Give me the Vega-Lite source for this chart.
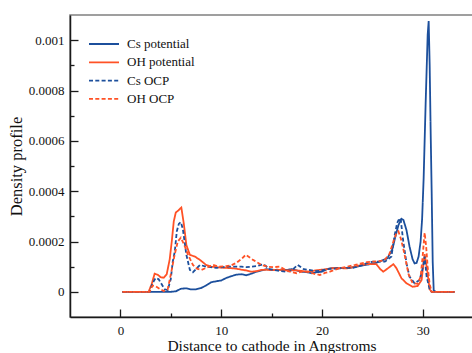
{
  "$schema": "https://vega.github.io/schema/vega-lite/v6.json",
  "width": 403,
  "height": 302,
  "autosize": {"type": "none"},
  "padding": {"left": 70, "top": 15, "right": 0, "bottom": 36},
  "background": "white",
  "config": {
    "font": "Liberation Serif",
    "view": {"stroke": "#808080", "strokeWidth": 1.5},
    "axis": {
      "grid": false,
      "domainColor": "#1a1a1a",
      "domainWidth": 1.5,
      "tickColor": "#1a1a1a",
      "tickWidth": 1.3,
      "labelColor": "#111111",
      "labelFontSize": 13,
      "labelFont": "Liberation Serif",
      "titleFont": "Liberation Serif",
      "titleColor": "#111111",
      "titleFontWeight": "normal",
      "labelOverlap": false,
      "labelFlush": false
    }
  },
  "data": {
    "values": [
      {"series": "Cs potential", "distance": 0.2, "density": 0},
      {"series": "Cs potential", "distance": 1, "density": 0},
      {"series": "Cs potential", "distance": 2, "density": 0},
      {"series": "Cs potential", "distance": 3, "density": 0},
      {"series": "Cs potential", "distance": 4, "density": 0},
      {"series": "Cs potential", "distance": 5, "density": 0},
      {"series": "Cs potential", "distance": 5.5, "density": 0.02e-4},
      {"series": "Cs potential", "distance": 6, "density": 0.12e-4},
      {"series": "Cs potential", "distance": 6.5, "density": 0.14e-4},
      {"series": "Cs potential", "distance": 7, "density": 0.1e-4},
      {"series": "Cs potential", "distance": 7.5, "density": 0.1e-4},
      {"series": "Cs potential", "distance": 8, "density": 0.15e-4},
      {"series": "Cs potential", "distance": 8.5, "density": 0.25e-4},
      {"series": "Cs potential", "distance": 9, "density": 0.38e-4},
      {"series": "Cs potential", "distance": 9.5, "density": 0.42e-4},
      {"series": "Cs potential", "distance": 10, "density": 0.45e-4},
      {"series": "Cs potential", "distance": 10.5, "density": 0.55e-4},
      {"series": "Cs potential", "distance": 11, "density": 0.62e-4},
      {"series": "Cs potential", "distance": 11.5, "density": 0.68e-4},
      {"series": "Cs potential", "distance": 12, "density": 0.7e-4},
      {"series": "Cs potential", "distance": 12.5, "density": 0.66e-4},
      {"series": "Cs potential", "distance": 13, "density": 0.72e-4},
      {"series": "Cs potential", "distance": 13.5, "density": 0.8e-4},
      {"series": "Cs potential", "distance": 14, "density": 0.85e-4},
      {"series": "Cs potential", "distance": 14.5, "density": 0.9e-4},
      {"series": "Cs potential", "distance": 15, "density": 0.88e-4},
      {"series": "Cs potential", "distance": 15.5, "density": 0.87e-4},
      {"series": "Cs potential", "distance": 16, "density": 0.88e-4},
      {"series": "Cs potential", "distance": 16.5, "density": 0.87e-4},
      {"series": "Cs potential", "distance": 17, "density": 0.9e-4},
      {"series": "Cs potential", "distance": 17.5, "density": 0.85e-4},
      {"series": "Cs potential", "distance": 18, "density": 0.8e-4},
      {"series": "Cs potential", "distance": 18.5, "density": 0.78e-4},
      {"series": "Cs potential", "distance": 19, "density": 0.74e-4},
      {"series": "Cs potential", "distance": 19.5, "density": 0.78e-4},
      {"series": "Cs potential", "distance": 20, "density": 0.8e-4},
      {"series": "Cs potential", "distance": 20.5, "density": 0.9e-4},
      {"series": "Cs potential", "distance": 21, "density": 0.94e-4},
      {"series": "Cs potential", "distance": 21.5, "density": 0.93e-4},
      {"series": "Cs potential", "distance": 22, "density": 0.94e-4},
      {"series": "Cs potential", "distance": 22.5, "density": 0.95e-4},
      {"series": "Cs potential", "distance": 23, "density": 0.97e-4},
      {"series": "Cs potential", "distance": 23.5, "density": 1.0e-4},
      {"series": "Cs potential", "distance": 24, "density": 1.05e-4},
      {"series": "Cs potential", "distance": 24.5, "density": 1.08e-4},
      {"series": "Cs potential", "distance": 25, "density": 1.12e-4},
      {"series": "Cs potential", "distance": 25.5, "density": 1.17e-4},
      {"series": "Cs potential", "distance": 26, "density": 1.25e-4},
      {"series": "Cs potential", "distance": 26.5, "density": 1.33e-4},
      {"series": "Cs potential", "distance": 27, "density": 1.7e-4},
      {"series": "Cs potential", "distance": 27.3, "density": 2.2e-4},
      {"series": "Cs potential", "distance": 27.6, "density": 2.65e-4},
      {"series": "Cs potential", "distance": 27.9, "density": 2.9e-4},
      {"series": "Cs potential", "distance": 28.1, "density": 2.85e-4},
      {"series": "Cs potential", "distance": 28.4, "density": 2.45e-4},
      {"series": "Cs potential", "distance": 28.7, "density": 1.8e-4},
      {"series": "Cs potential", "distance": 29, "density": 1.3e-4},
      {"series": "Cs potential", "distance": 29.2, "density": 1.13e-4},
      {"series": "Cs potential", "distance": 29.4, "density": 1.15e-4},
      {"series": "Cs potential", "distance": 29.6, "density": 1.4e-4},
      {"series": "Cs potential", "distance": 29.8, "density": 2.0e-4},
      {"series": "Cs potential", "distance": 29.95, "density": 2.9e-4},
      {"series": "Cs potential", "distance": 30.1, "density": 4.5e-4},
      {"series": "Cs potential", "distance": 30.3, "density": 7.5e-4},
      {"series": "Cs potential", "distance": 30.5, "density": 10.2e-4},
      {"series": "Cs potential", "distance": 30.6, "density": 10.76e-4},
      {"series": "Cs potential", "distance": 30.7, "density": 9.0e-4},
      {"series": "Cs potential", "distance": 30.8, "density": 6.3e-4},
      {"series": "Cs potential", "distance": 30.9, "density": 3.9e-4},
      {"series": "Cs potential", "distance": 31.0, "density": 1.2e-4},
      {"series": "Cs potential", "distance": 31.1, "density": 0.05e-4},
      {"series": "Cs potential", "distance": 31.3, "density": 0},
      {"series": "Cs potential", "distance": 32, "density": 0},
      {"series": "Cs potential", "distance": 33.2, "density": 0},

      {"series": "OH potential", "distance": 0.2, "density": 0},
      {"series": "OH potential", "distance": 1, "density": 0},
      {"series": "OH potential", "distance": 2, "density": 0},
      {"series": "OH potential", "distance": 2.8, "density": 0},
      {"series": "OH potential", "distance": 3.1, "density": 0.3e-4},
      {"series": "OH potential", "distance": 3.4, "density": 0.72e-4},
      {"series": "OH potential", "distance": 3.7, "density": 0.68e-4},
      {"series": "OH potential", "distance": 4.0, "density": 0.58e-4},
      {"series": "OH potential", "distance": 4.3, "density": 0.56e-4},
      {"series": "OH potential", "distance": 4.6, "density": 0.7e-4},
      {"series": "OH potential", "distance": 4.9, "density": 1.3e-4},
      {"series": "OH potential", "distance": 5.1, "density": 2.0e-4},
      {"series": "OH potential", "distance": 5.3, "density": 2.8e-4},
      {"series": "OH potential", "distance": 5.5, "density": 3.15e-4},
      {"series": "OH potential", "distance": 5.8, "density": 3.25e-4},
      {"series": "OH potential", "distance": 6.05, "density": 3.35e-4},
      {"series": "OH potential", "distance": 6.3, "density": 2.7e-4},
      {"series": "OH potential", "distance": 6.55, "density": 1.86e-4},
      {"series": "OH potential", "distance": 6.9, "density": 1.47e-4},
      {"series": "OH potential", "distance": 7.4, "density": 1.4e-4},
      {"series": "OH potential", "distance": 7.9, "density": 1.27e-4},
      {"series": "OH potential", "distance": 8.5, "density": 1.07e-4},
      {"series": "OH potential", "distance": 9, "density": 1.0e-4},
      {"series": "OH potential", "distance": 9.5, "density": 0.98e-4},
      {"series": "OH potential", "distance": 10, "density": 0.96e-4},
      {"series": "OH potential", "distance": 10.5, "density": 0.95e-4},
      {"series": "OH potential", "distance": 11, "density": 0.94e-4},
      {"series": "OH potential", "distance": 11.5, "density": 0.92e-4},
      {"series": "OH potential", "distance": 12, "density": 0.88e-4},
      {"series": "OH potential", "distance": 12.5, "density": 0.85e-4},
      {"series": "OH potential", "distance": 13, "density": 0.8e-4},
      {"series": "OH potential", "distance": 13.5, "density": 0.82e-4},
      {"series": "OH potential", "distance": 14, "density": 0.87e-4},
      {"series": "OH potential", "distance": 14.5, "density": 0.88e-4},
      {"series": "OH potential", "distance": 15, "density": 0.86e-4},
      {"series": "OH potential", "distance": 15.5, "density": 0.88e-4},
      {"series": "OH potential", "distance": 16, "density": 0.87e-4},
      {"series": "OH potential", "distance": 16.5, "density": 0.85e-4},
      {"series": "OH potential", "distance": 17, "density": 0.86e-4},
      {"series": "OH potential", "distance": 17.5, "density": 0.85e-4},
      {"series": "OH potential", "distance": 18, "density": 0.83e-4},
      {"series": "OH potential", "distance": 18.5, "density": 0.8e-4},
      {"series": "OH potential", "distance": 19, "density": 0.82e-4},
      {"series": "OH potential", "distance": 19.5, "density": 0.86e-4},
      {"series": "OH potential", "distance": 20, "density": 0.88e-4},
      {"series": "OH potential", "distance": 20.5, "density": 0.9e-4},
      {"series": "OH potential", "distance": 21, "density": 0.94e-4},
      {"series": "OH potential", "distance": 21.5, "density": 0.95e-4},
      {"series": "OH potential", "distance": 22, "density": 0.94e-4},
      {"series": "OH potential", "distance": 22.5, "density": 0.93e-4},
      {"series": "OH potential", "distance": 23, "density": 0.97e-4},
      {"series": "OH potential", "distance": 23.5, "density": 1.03e-4},
      {"series": "OH potential", "distance": 24, "density": 1.08e-4},
      {"series": "OH potential", "distance": 24.5, "density": 1.1e-4},
      {"series": "OH potential", "distance": 25, "density": 1.1e-4},
      {"series": "OH potential", "distance": 25.4, "density": 1.1e-4},
      {"series": "OH potential", "distance": 25.8, "density": 0.9e-4},
      {"series": "OH potential", "distance": 26.1, "density": 0.8e-4},
      {"series": "OH potential", "distance": 26.5, "density": 0.92e-4},
      {"series": "OH potential", "distance": 27.1, "density": 1.1e-4},
      {"series": "OH potential", "distance": 27.4, "density": 0.94e-4},
      {"series": "OH potential", "distance": 27.9, "density": 0.54e-4},
      {"series": "OH potential", "distance": 28.4, "density": 0.34e-4},
      {"series": "OH potential", "distance": 29.0, "density": 0.2e-4},
      {"series": "OH potential", "distance": 29.5, "density": 0.23e-4},
      {"series": "OH potential", "distance": 29.9, "density": 0.47e-4},
      {"series": "OH potential", "distance": 30.05, "density": 1.0e-4},
      {"series": "OH potential", "distance": 30.2, "density": 1.5e-4},
      {"series": "OH potential", "distance": 30.4, "density": 1.0e-4},
      {"series": "OH potential", "distance": 30.7, "density": 0.1e-4},
      {"series": "OH potential", "distance": 30.9, "density": 0},
      {"series": "OH potential", "distance": 33.2, "density": 0},

      {"series": "Cs OCP", "distance": 0.2, "density": 0},
      {"series": "Cs OCP", "distance": 2.9, "density": 0},
      {"series": "Cs OCP", "distance": 3.2, "density": 0.35e-4},
      {"series": "Cs OCP", "distance": 3.5, "density": 0.55e-4},
      {"series": "Cs OCP", "distance": 3.8, "density": 0.5e-4},
      {"series": "Cs OCP", "distance": 4.1, "density": 0.3e-4},
      {"series": "Cs OCP", "distance": 4.4, "density": 0.1e-4},
      {"series": "Cs OCP", "distance": 4.7, "density": 0.07e-4},
      {"series": "Cs OCP", "distance": 5.0, "density": 0.5e-4},
      {"series": "Cs OCP", "distance": 5.2, "density": 1.2e-4},
      {"series": "Cs OCP", "distance": 5.4, "density": 1.6e-4},
      {"series": "Cs OCP", "distance": 5.6, "density": 2.4e-4},
      {"series": "Cs OCP", "distance": 5.8, "density": 2.7e-4},
      {"series": "Cs OCP", "distance": 6.0, "density": 2.77e-4},
      {"series": "Cs OCP", "distance": 6.2, "density": 2.5e-4},
      {"series": "Cs OCP", "distance": 6.55, "density": 1.47e-4},
      {"series": "Cs OCP", "distance": 6.9, "density": 0.87e-4},
      {"series": "Cs OCP", "distance": 7.2, "density": 0.78e-4},
      {"series": "Cs OCP", "distance": 7.5, "density": 0.9e-4},
      {"series": "Cs OCP", "distance": 7.9, "density": 1.07e-4},
      {"series": "Cs OCP", "distance": 8.5, "density": 1.0e-4},
      {"series": "Cs OCP", "distance": 9, "density": 0.98e-4},
      {"series": "Cs OCP", "distance": 9.5, "density": 0.95e-4},
      {"series": "Cs OCP", "distance": 10, "density": 0.97e-4},
      {"series": "Cs OCP", "distance": 10.5, "density": 1.0e-4},
      {"series": "Cs OCP", "distance": 11, "density": 1.0e-4},
      {"series": "Cs OCP", "distance": 11.5, "density": 1.0e-4},
      {"series": "Cs OCP", "distance": 12, "density": 1.0e-4},
      {"series": "Cs OCP", "distance": 12.5, "density": 0.98e-4},
      {"series": "Cs OCP", "distance": 13, "density": 1.0e-4},
      {"series": "Cs OCP", "distance": 13.5, "density": 1.02e-4},
      {"series": "Cs OCP", "distance": 14.2, "density": 1.1e-4},
      {"series": "Cs OCP", "distance": 14.8, "density": 0.9e-4},
      {"series": "Cs OCP", "distance": 15.5, "density": 0.85e-4},
      {"series": "Cs OCP", "distance": 16, "density": 0.82e-4},
      {"series": "Cs OCP", "distance": 16.5, "density": 0.8e-4},
      {"series": "Cs OCP", "distance": 17, "density": 0.85e-4},
      {"series": "Cs OCP", "distance": 17.6, "density": 1.07e-4},
      {"series": "Cs OCP", "distance": 18.2, "density": 0.9e-4},
      {"series": "Cs OCP", "distance": 19, "density": 0.85e-4},
      {"series": "Cs OCP", "distance": 19.5, "density": 0.82e-4},
      {"series": "Cs OCP", "distance": 20, "density": 0.85e-4},
      {"series": "Cs OCP", "distance": 20.5, "density": 0.9e-4},
      {"series": "Cs OCP", "distance": 21, "density": 0.92e-4},
      {"series": "Cs OCP", "distance": 22, "density": 0.95e-4},
      {"series": "Cs OCP", "distance": 22.5, "density": 0.95e-4},
      {"series": "Cs OCP", "distance": 23, "density": 0.95e-4},
      {"series": "Cs OCP", "distance": 23.5, "density": 1.0e-4},
      {"series": "Cs OCP", "distance": 24, "density": 1.05e-4},
      {"series": "Cs OCP", "distance": 24.5, "density": 1.15e-4},
      {"series": "Cs OCP", "distance": 25.1, "density": 1.2e-4},
      {"series": "Cs OCP", "distance": 25.7, "density": 1.2e-4},
      {"series": "Cs OCP", "distance": 26.25, "density": 1.2e-4},
      {"series": "Cs OCP", "distance": 26.6, "density": 1.3e-4},
      {"series": "Cs OCP", "distance": 26.9, "density": 1.4e-4},
      {"series": "Cs OCP", "distance": 27.2, "density": 2.2e-4},
      {"series": "Cs OCP", "distance": 27.47, "density": 2.73e-4},
      {"series": "Cs OCP", "distance": 27.7, "density": 2.93e-4},
      {"series": "Cs OCP", "distance": 27.85, "density": 2.8e-4},
      {"series": "Cs OCP", "distance": 28.06, "density": 2.06e-4},
      {"series": "Cs OCP", "distance": 28.4, "density": 1.13e-4},
      {"series": "Cs OCP", "distance": 28.7, "density": 0.6e-4},
      {"series": "Cs OCP", "distance": 29.2, "density": 0.34e-4},
      {"series": "Cs OCP", "distance": 29.7, "density": 0.47e-4},
      {"series": "Cs OCP", "distance": 30.05, "density": 1.0e-4},
      {"series": "Cs OCP", "distance": 30.2, "density": 1.4e-4},
      {"series": "Cs OCP", "distance": 30.4, "density": 0.6e-4},
      {"series": "Cs OCP", "distance": 30.7, "density": 0.1e-4},
      {"series": "Cs OCP", "distance": 30.9, "density": 0},
      {"series": "Cs OCP", "distance": 33.2, "density": 0},

      {"series": "OH OCP", "distance": 0.2, "density": 0},
      {"series": "OH OCP", "distance": 2.9, "density": 0},
      {"series": "OH OCP", "distance": 3.2, "density": 0.25e-4},
      {"series": "OH OCP", "distance": 3.5, "density": 0.22e-4},
      {"series": "OH OCP", "distance": 3.9, "density": 0.12e-4},
      {"series": "OH OCP", "distance": 4.3, "density": 0.03e-4},
      {"series": "OH OCP", "distance": 4.7, "density": 0.1e-4},
      {"series": "OH OCP", "distance": 5.06, "density": 0.8e-4},
      {"series": "OH OCP", "distance": 5.4, "density": 1.5e-4},
      {"series": "OH OCP", "distance": 5.7, "density": 2.0e-4},
      {"series": "OH OCP", "distance": 6.0, "density": 2.15e-4},
      {"series": "OH OCP", "distance": 6.3, "density": 1.9e-4},
      {"series": "OH OCP", "distance": 6.72, "density": 1.47e-4},
      {"series": "OH OCP", "distance": 7.2, "density": 1.07e-4},
      {"series": "OH OCP", "distance": 7.6, "density": 0.92e-4},
      {"series": "OH OCP", "distance": 8.04, "density": 0.87e-4},
      {"series": "OH OCP", "distance": 8.5, "density": 0.95e-4},
      {"series": "OH OCP", "distance": 9.2, "density": 1.07e-4},
      {"series": "OH OCP", "distance": 9.8, "density": 1.0e-4},
      {"series": "OH OCP", "distance": 10.5, "density": 1.02e-4},
      {"series": "OH OCP", "distance": 11, "density": 1.05e-4},
      {"series": "OH OCP", "distance": 11.5, "density": 1.15e-4},
      {"series": "OH OCP", "distance": 12, "density": 1.3e-4},
      {"series": "OH OCP", "distance": 12.44, "density": 1.47e-4},
      {"series": "OH OCP", "distance": 13.17, "density": 1.27e-4},
      {"series": "OH OCP", "distance": 14, "density": 1.07e-4},
      {"series": "OH OCP", "distance": 14.6, "density": 1.0e-4},
      {"series": "OH OCP", "distance": 15.2, "density": 0.98e-4},
      {"series": "OH OCP", "distance": 15.8, "density": 1.0e-4},
      {"series": "OH OCP", "distance": 16.5, "density": 0.85e-4},
      {"series": "OH OCP", "distance": 17, "density": 0.78e-4},
      {"series": "OH OCP", "distance": 17.5, "density": 0.74e-4},
      {"series": "OH OCP", "distance": 18, "density": 0.8e-4},
      {"series": "OH OCP", "distance": 18.6, "density": 0.8e-4},
      {"series": "OH OCP", "distance": 19.2, "density": 0.72e-4},
      {"series": "OH OCP", "distance": 19.8, "density": 0.67e-4},
      {"series": "OH OCP", "distance": 20.3, "density": 0.75e-4},
      {"series": "OH OCP", "distance": 20.8, "density": 0.8e-4},
      {"series": "OH OCP", "distance": 21.3, "density": 0.88e-4},
      {"series": "OH OCP", "distance": 21.8, "density": 0.94e-4},
      {"series": "OH OCP", "distance": 22.5, "density": 1.0e-4},
      {"series": "OH OCP", "distance": 23.3, "density": 1.07e-4},
      {"series": "OH OCP", "distance": 23.8, "density": 1.12e-4},
      {"series": "OH OCP", "distance": 24.5, "density": 1.18e-4},
      {"series": "OH OCP", "distance": 25.1, "density": 1.2e-4},
      {"series": "OH OCP", "distance": 25.7, "density": 1.22e-4},
      {"series": "OH OCP", "distance": 26.2, "density": 1.25e-4},
      {"series": "OH OCP", "distance": 26.7, "density": 1.5e-4},
      {"series": "OH OCP", "distance": 27.1, "density": 2.0e-4},
      {"series": "OH OCP", "distance": 27.4, "density": 2.33e-4},
      {"series": "OH OCP", "distance": 27.6, "density": 2.4e-4},
      {"series": "OH OCP", "distance": 27.85, "density": 2.1e-4},
      {"series": "OH OCP", "distance": 28.2, "density": 1.5e-4},
      {"series": "OH OCP", "distance": 28.6, "density": 0.7e-4},
      {"series": "OH OCP", "distance": 29.0, "density": 0.35e-4},
      {"series": "OH OCP", "distance": 29.5, "density": 0.32e-4},
      {"series": "OH OCP", "distance": 29.8, "density": 0.6e-4},
      {"series": "OH OCP", "distance": 30.0, "density": 1.4e-4},
      {"series": "OH OCP", "distance": 30.2, "density": 2.35e-4},
      {"series": "OH OCP", "distance": 30.35, "density": 1.8e-4},
      {"series": "OH OCP", "distance": 30.5, "density": 1.0e-4},
      {"series": "OH OCP", "distance": 30.7, "density": 0.3e-4},
      {"series": "OH OCP", "distance": 30.9, "density": 0},
      {"series": "OH OCP", "distance": 33.2, "density": 0}
    ]
  },
  "layer": [
    {
      "mark": {"type": "line", "strokeWidth": 1.8},
      "encoding": {
        "x": {
          "field": "distance",
          "type": "quantitative",
          "scale": {"domain": [-5, 35], "nice": false, "zero": false},
          "axis": {
            "orient": "bottom",
            "title": "Distance to cathode in Angstroms",
            "titleFontSize": 15.5,
            "titlePadding": 1,
            "values": [0, 10, 20, 30],
            "ticks": false,
            "labelPadding": 7
          }
        },
        "y": {
          "field": "density",
          "type": "quantitative",
          "scale": {"domain": [-0.0001, 0.0011], "nice": false, "zero": false},
          "axis": {
            "orient": "left",
            "title": "Density profile",
            "titleFontSize": 16.5,
            "titlePadding": 4,
            "values": [0, 0.0002, 0.0004, 0.0006, 0.0008, 0.001],
            "format": "~r",
            "ticks": false,
            "labelPadding": 6
          }
        },
        "color": {
          "field": "series",
          "type": "nominal",
          "scale": {
            "domain": ["Cs potential", "OH potential", "Cs OCP", "OH OCP"],
            "range": ["#1c4f9c", "#ff5226", "#1c4f9c", "#ff5226"]
          },
          "legend": {
            "title": null,
            "orient": "none",
            "legendX": 27,
            "legendY": 22,
            "padding": 0,
            "symbolType": "M-2.5,0H2.5",
            "symbolSize": 144,
            "symbolStrokeWidth": 1.8,
            "labelOffset": 16,
            "labelFontSize": 13,
            "labelFont": "Liberation Serif",
            "labelColor": "#111111",
            "rowPadding": 4.3
          }
        },
        "strokeDash": {
          "field": "series",
          "type": "nominal",
          "scale": {
            "domain": ["Cs potential", "OH potential", "Cs OCP", "OH OCP"],
            "range": [[1, 0], [1, 0], [4, 2.3], [4, 2.3]]
          }
        }
      }
    },
    {
      "mark": {"type": "point", "opacity": 0},
      "encoding": {
        "x": {
          "field": "distance",
          "type": "quantitative",
          "axis": {
            "orient": "top",
            "offset": -302,
            "title": null,
            "domain": false,
            "labels": false,
            "values": [0, 5, 10, 15, 20, 25, 30],
            "tickSize": {"condition": {"test": "datum.value % 10 === 0", "value": 8}, "value": 4}
          }
        },
        "y": {
          "field": "density",
          "type": "quantitative",
          "axis": {
            "orient": "right",
            "offset": -403,
            "title": null,
            "domain": false,
            "labels": false,
            "values": [0, 0.0001, 0.0002, 0.0003, 0.0004, 0.0005, 0.0006, 0.0007, 0.0008, 0.0009, 0.001],
            "tickSize": {"condition": {"test": "round(datum.value * 10000) % 2 === 0", "value": 8}, "value": 4}
          }
        }
      }
    }
  ],
  "resolve": {"axis": {"x": "independent", "y": "independent"}}
}
